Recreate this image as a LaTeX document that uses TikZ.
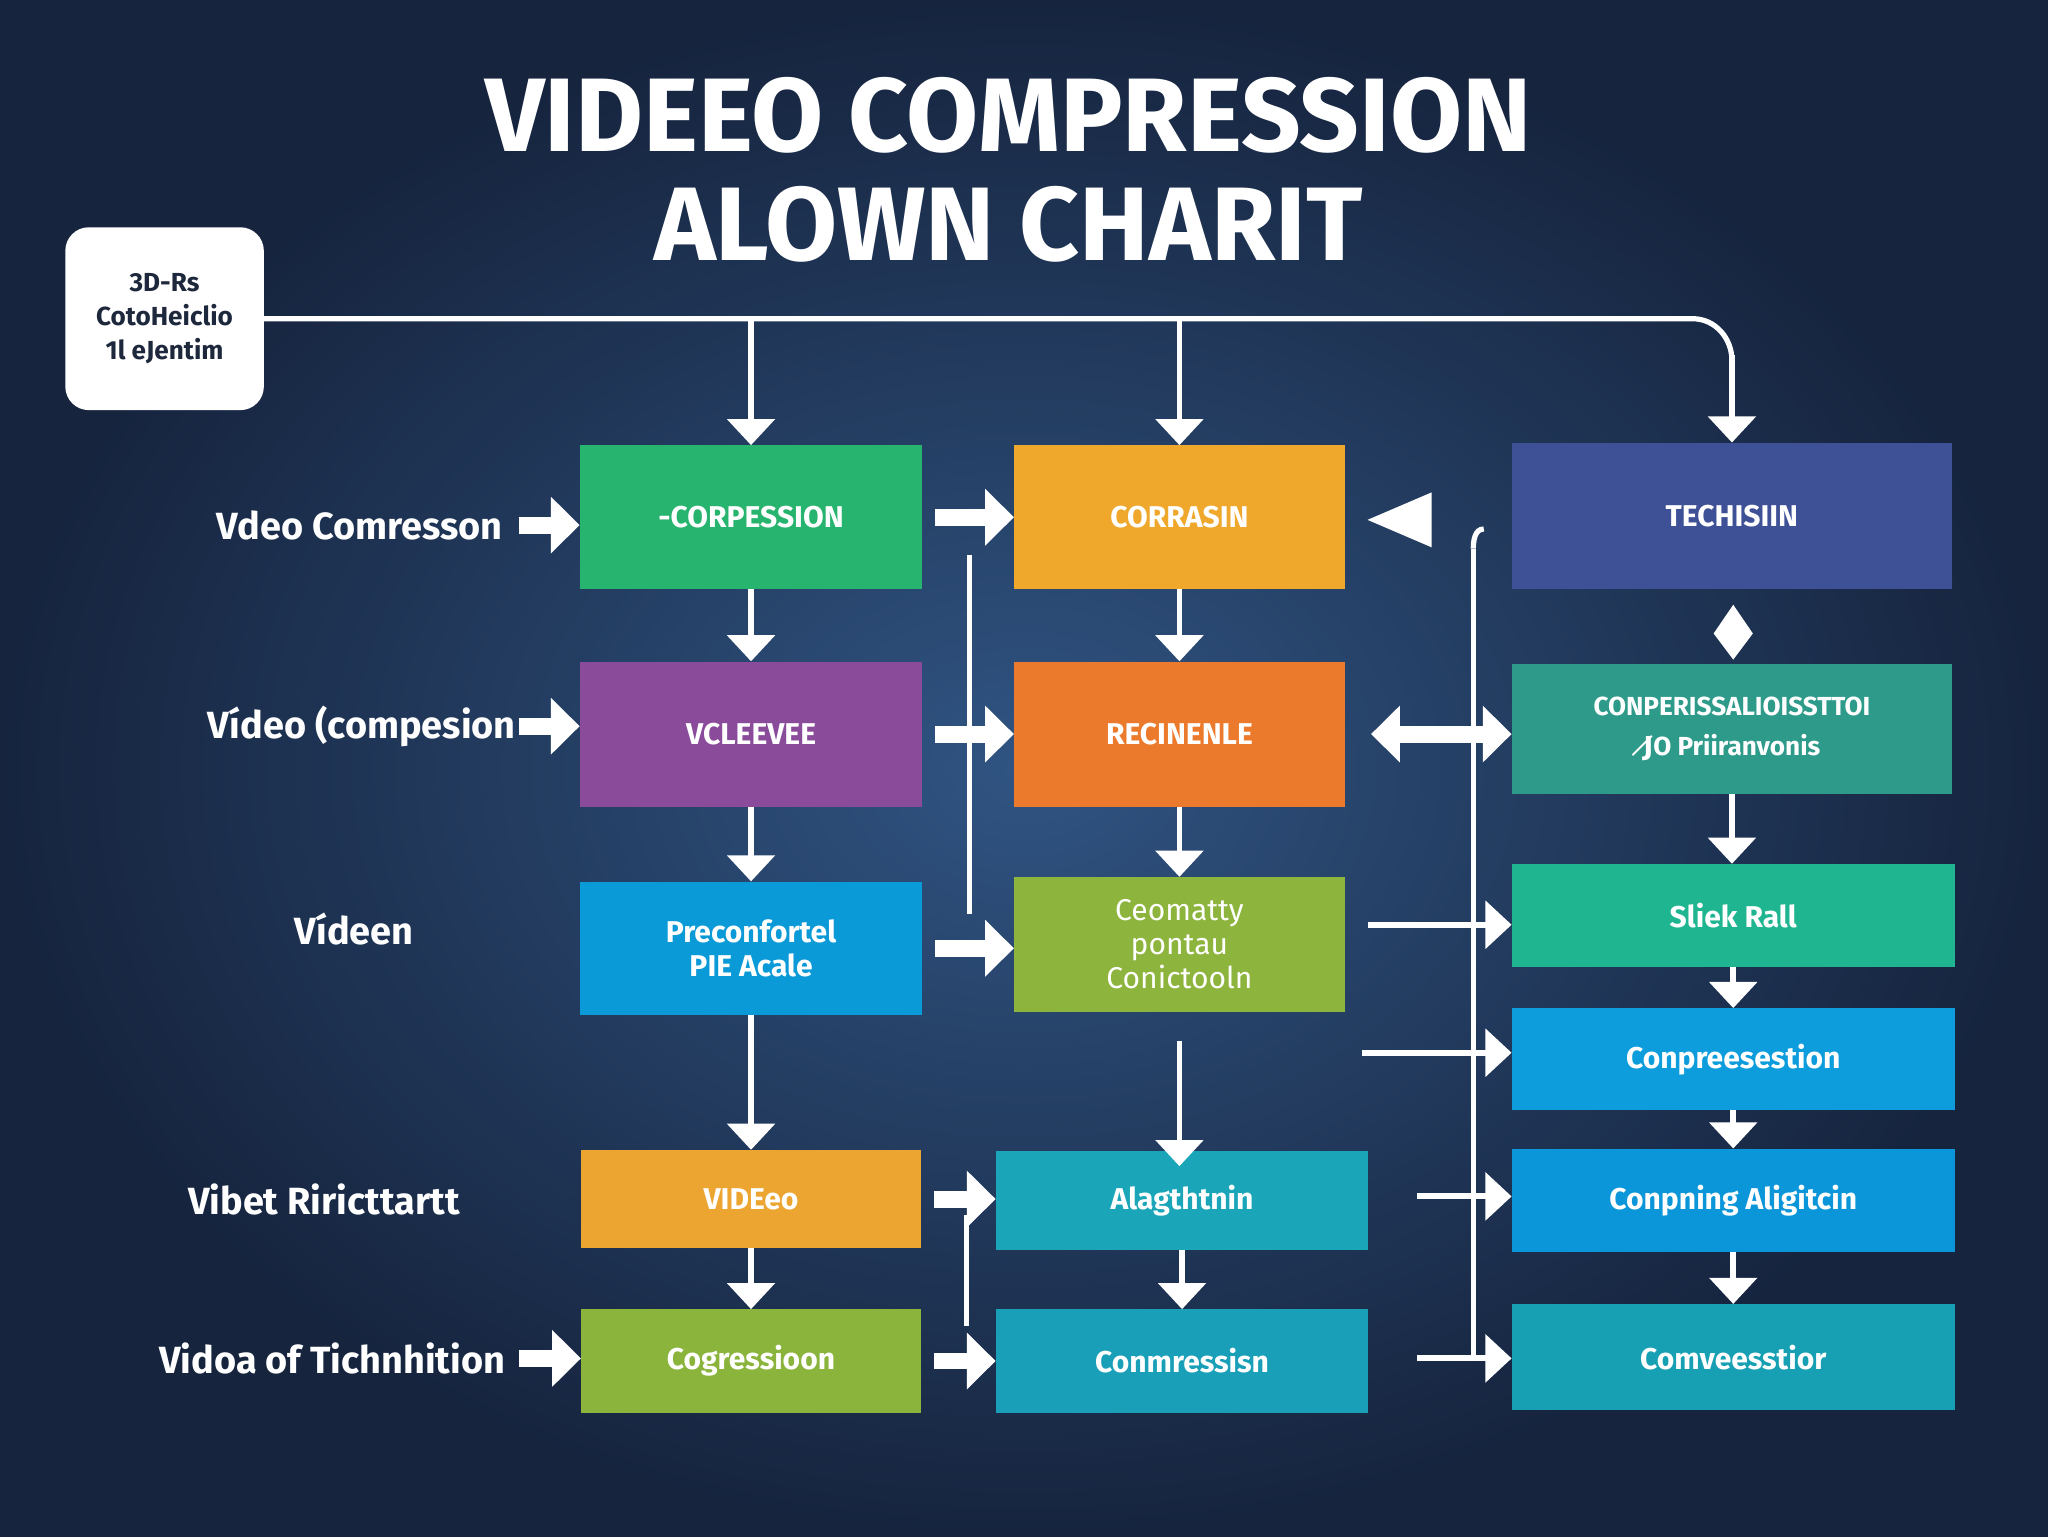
\documentclass[tikz,border=0pt]{standalone}
\usepackage{fontspec}
\setmainfont{Fira Sans}
\newfontfamily\djv{DejaVu Sans}
\usetikzlibrary{arrows.meta}
\begin{document}
\begin{tikzpicture}[x=1pt,y=-1pt,
  box/.style={draw=none,text=white,font=\fontsize{23}{26}\selectfont\bfseries,align=center,inner sep=2pt},
  lab/.style={text=white,font=\fontsize{29}{32}\selectfont\bfseries,inner sep=2pt},
  darr/.style={draw=white,line width=4.5pt,-{Triangle[length=20pt,width=36pt]}},
  barr/.style={draw=white,line width=13pt,-{Triangle[length=22pt,width=42pt]}},
  wline/.style={draw=white,line width=4pt}]
\shade[inner color={rgb,255:red,48;green,84;blue,130},outer color={rgb,255:red,22;green,36;blue,62}] (0,0) rectangle (1568,1176);
\useasboundingbox (0,0) rectangle (1568,1176);
% title
\node[text=white,font=\fontsize{80}{84}\selectfont\bfseries] (t1) at (772,88) {VIDEEO COMPRESSION};
\node[text=white,font=\fontsize{80}{84}\selectfont\bfseries] (t2) at (772,172) {ALOWN CHARIT};
% top-left box
\node[fill=white,rounded corners=18pt,minimum width=152pt,minimum height=140pt,text={rgb,255:red,30;green,40;blue,60},font=\fontsize{20}{26}\selectfont\bfseries,align=center] (tl) at (126,244) {3D-Rs\\CotoHeiclio\\1l eJentim};
% column 1
\node[box,fill={rgb,255:red,39;green,180;blue,110},minimum width=262pt,minimum height=110pt] (a1) at (575,396) {-CORPESSION};
\node[box,fill={rgb,255:red,138;green,76;blue,154},minimum width=262pt,minimum height=111pt] (a2) at (575,562) {VCLEEVEE};
\node[box,fill={rgb,255:red,10;green,154;blue,216},minimum width=262pt,minimum height=102pt] (a3) at (575,726) {Preconfortel\\PIE Acale};
\node[box,fill={rgb,255:red,237;green,165;blue,49},minimum width=260pt,minimum height=75pt] (a4) at (575,918) {VIDEeo};
\node[box,fill={rgb,255:red,138;green,180;blue,60},minimum width=260pt,minimum height=79pt] (a5) at (575,1042) {Cogressioon};
% column 2
\node[box,fill={rgb,255:red,239;green,168;blue,44},minimum width=253pt,minimum height=110pt] (b1) at (903,396) {CORRASIN};
\node[box,fill={rgb,255:red,236;green,122;blue,44},minimum width=253pt,minimum height=111pt] (b2) at (903,562) {RECINENLE};
\node[box,fill={rgb,255:red,141;green,180;blue,60},minimum width=253pt,minimum height=103pt,font=\fontsize{23}{26}\selectfont] (b3) at (903,723) {Ceomatty\\pontau\\Conictooln};
\node[box,fill={rgb,255:red,26;green,166;blue,184},minimum width=285pt,minimum height=76pt] (b4) at (905,919) {Alagthtnin};
\node[box,fill={rgb,255:red,26;green,159;blue,184},minimum width=285pt,minimum height=79pt] (b5) at (905,1042) {Conmressisn};
% column 3
\node[box,fill={rgb,255:red,62;green,80;blue,150},minimum width=337pt,minimum height=112pt] (c1) at (1326,395) {TECHISIIN};
\node[box,fill={rgb,255:red,46;green,154;blue,138},minimum width=337pt,minimum height=100pt,font=\fontsize{20}{30}\selectfont\bfseries] (c2) at (1326,558) {CONPERISSALIOISSTTOI\\{\djv J̸}O Priiranvonis};
\node[box,fill={rgb,255:red,31;green,181;blue,144},minimum width=339pt,minimum height=79pt] (c3) at (1327,701) {Sliek Rall};
\node[box,fill={rgb,255:red,13;green,156;blue,220},minimum width=339pt,minimum height=78pt] (c4) at (1327,811) {Conpreesestion};
\node[box,fill={rgb,255:red,10;green,150;blue,216},minimum width=339pt,minimum height=79pt] (c5) at (1327,919) {Conpning Aligitcin};
\node[box,fill={rgb,255:red,23;green,160;blue,179},minimum width=339pt,minimum height=81pt] (c6) at (1327,1039) {Comveesstior};
% left labels
\node[lab,anchor=east] (l1) at (387,402) {Vdeo Comresson};
\node[lab,anchor=east] (l2) at (397,556) {Vídeo (compesion};
\node[lab] (l3) at (271,711) {Vídeen};
\node[lab] (l4) at (248,918) {Vibet Riricttartt};
\node[lab,anchor=east] (l5) at (389,1040) {Vidoa of Tichnhition};
% top bus
\draw[wline] (tl.east |- 0,244) -- (1296,244) to[out=0,in=90] (c1.north |- 0,276);
\draw[darr] (c1.north |- 0,272) -- (c1.north);
\draw[darr] (a1.north |- 0,244) -- (a1.north);
\draw[darr] (b1.north |- 0,244) -- (b1.north);
% column downs
\draw[darr] (a1.south) -- (a2.north);
\draw[darr] (a2.south) -- (a3.north);
\draw[darr] (a3.south) -- (a4.north);
\draw[darr] (a4.south) -- (a5.north);
\draw[darr] (b1.south) -- (b2.north);
\draw[darr] (b2.south) -- (b3.north);
\draw[darr] ([yshift=-22pt]b3.south) -- ([yshift=-12pt]b3.south |- b4.north);
\draw[darr] (b4.south) -- (b5.north);
\draw[darr] (c2.south) -- (c2.south |- c3.north);
\draw[darr] (c3.south) -- (c4.north);
\draw[darr] (c4.south) -- (c5.north);
\draw[darr] (c5.south) -- (c6.north);
\fill[white] (1327,463) -- (1342,485) -- (1327,505) -- (1312,485) -- cycle;
% left to col1
\draw[barr] ([xshift=10pt]l1.east) -- (a1.west |- l1.east);
\draw[barr] (l2.east) -- (a2.west |- l2.east);
\draw[barr] ([xshift=8pt]l5.east) -- (a5.west |- l5.east);
% col1 to col2
\draw[wline] (742,425) -- (742,700);
\draw[wline] (740,930) -- (740,1015);
\draw[barr] ([xshift=10pt]a1.east) -- (b1.west);
\draw[barr] ([xshift=10pt]a2.east) -- (b2.west);
\draw[barr] ([xshift=10pt]a3.east) -- (b3.west |- a3.east);
\draw[barr] ([xshift=10pt]a4.east) -- (b4.west |- a4.east);
\draw[barr] ([xshift=10pt]a5.east) -- (b5.west |- a5.east);
% right bus
\draw[wline] (1128,420) to[out=90,in=180] (1136,405);
\draw[wline] (1128,420) -- (1128,1040);
\fill[white] (1047,398) -- (1096,377) -- (1096,419) -- cycle;
\draw[barr,{Triangle[length=22pt,width=42pt]}-{Triangle[length=22pt,width=42pt]}] ([xshift=20pt]b2.east) -- (c2.west |- b2.east);
\draw[darr] ([xshift=18pt]b3.east |- 0,708) -- (c3.west |- 0,708);
\draw[darr] (1043,806) -- (c4.west |- 0,806);
\draw[darr] (1085,916) -- (c5.west |- 0,916);
\draw[darr] (1085,1040) -- (c6.west |- 0,1040);
\end{tikzpicture}
\end{document}
